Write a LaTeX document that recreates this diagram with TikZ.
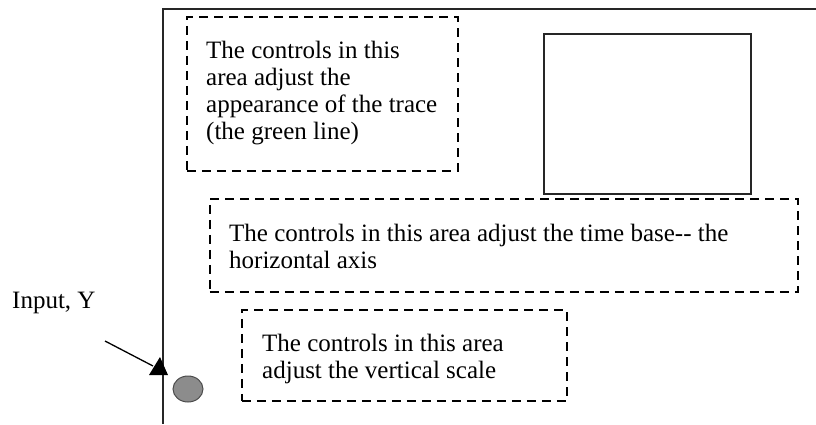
\documentclass[tikz,border=0pt]{standalone}
\usepackage{fontspec}
\setmainfont{Liberation Serif}
\usetikzlibrary{shapes.geometric}
\begin{document}
\begin{tikzpicture}[x=1pt,y=-1pt,
  area/.style={draw, line width=1.7pt, dash pattern=on 9pt off 6pt},
  label/.style={anchor=north west, inner sep=0pt, align=left,
    font=\fontsize{25}{27}\selectfont},
  frame/.style={line width=2pt, draw=black!85}]
\useasboundingbox (0,0) rectangle (816,424);
% outline of the instrument panel
\coordinate (ftop) at (816,9);
\coordinate (fcorner) at (163,9);
\coordinate (fbottom) at (163,424);
\draw[frame] (ftop) -- (fcorner) -- (fbottom);
% display screen
\node[frame, draw, minimum width=207pt, minimum height=160pt, inner sep=0pt,
  anchor=north west] (screen) at (543,33) {};
% control areas
\node[area, minimum width=271pt, minimum height=154pt, inner sep=0pt,
  anchor=north west] (trace) at (186,16) {};
\node[label] (tracetxt) at (206,41) {The controls in this\\area adjust the\\appearance of the trace\\(the green line)};
\node[area, minimum width=588pt, minimum height=93pt, inner sep=0pt,
  anchor=north west] (time) at (209,198) {};
\node[label] (timetxt) at (229,224) {The controls in this area adjust the time base-{}- the\\horizontal axis};
\node[area, minimum width=325pt, minimum height=91pt, inner sep=0pt,
  anchor=north west] (vert) at (241,309) {};
\node[label] (verttxt) at (262,334) {The controls in this area\\adjust the vertical scale};
% input connector
\node[draw=black!70, line width=1pt, fill=black!45, ellipse, minimum width=30pt,
  minimum height=26pt, inner sep=0pt] (input) at (188,389) {};
\node[label] (inputtxt) at (12,292) {Input, Y};
\coordinate (atail) at (105,341);
\coordinate (ahead) at (153,366);
\draw[line width=1.3pt] (atail) -- (ahead);
\fill (149,375) -- (168,375) -- (160,357) -- cycle;
\end{tikzpicture}
\end{document}
